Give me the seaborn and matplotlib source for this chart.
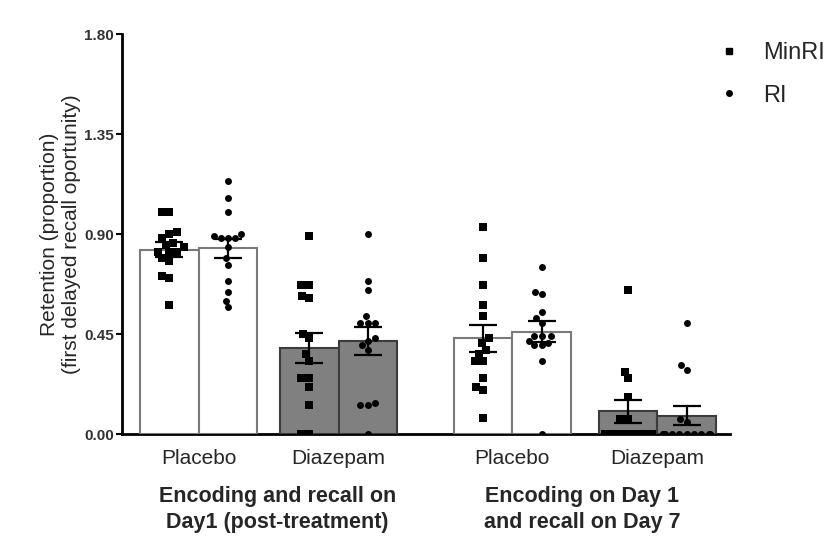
import numpy as np
import pandas as pd
import matplotlib
matplotlib.use("Agg")
import matplotlib.pyplot as plt
import matplotlib.transforms as mtrans
from matplotlib.lines import Line2D
from matplotlib.markers import MarkerStyle
import seaborn as sns

# ---------------- data ----------------
conditions = ["Placebo", "Diazepam", "Placebo", "Diazepam"]
bar_kind = ["placebo", "diazepam", "placebo", "diazepam"]
group_labels = ["Encoding and recall on\nDay1 (post-treatment)",
                "Encoding on Day 1\nand recall on Day 7"]
intervals = ["MinRI", "RI"]
yticks = [0.00, 0.45, 0.90, 1.35, 1.80]
ylabel = "Retention (proportion)\n(first delayed recall oportunity)"

mean_minri = [0.830, 0.387, 0.430, 0.102]
sem_minri = [0.032, 0.069, 0.060, 0.051]
mean_ri = [0.835, 0.417, 0.460, 0.083]
sem_ri = [0.044, 0.063, 0.047, 0.044]

d1_placebo_minri = [1.00, 1.00, 0.91, 0.90, 0.88, 0.86, 0.85, 0.84, 0.82, 0.82,
                    0.82, 0.79, 0.78, 0.71, 0.70, 0.58]
d1_placebo_ri = [1.14, 1.06, 1.00, 0.90, 0.89, 0.88, 0.88, 0.88, 0.84, 0.79,
                 0.76, 0.69, 0.64, 0.60, 0.57]
d1_diazepam_minri = [0.89, 0.67, 0.67, 0.62, 0.61, 0.45, 0.43, 0.36, 0.33, 0.25,
                     0.25, 0.21, 0.13, 0.00, 0.00]
d1_diazepam_ri = [0.90, 0.69, 0.65, 0.53, 0.50, 0.50, 0.50, 0.43, 0.42, 0.40,
                  0.38, 0.13, 0.13, 0.14, 0.00]
d7_placebo_minri = [0.93, 0.79, 0.67, 0.58, 0.53, 0.43, 0.41, 0.38, 0.36, 0.33,
                    0.33, 0.25, 0.21, 0.20, 0.07]
d7_placebo_ri = [0.75, 0.64, 0.63, 0.55, 0.52, 0.50, 0.44, 0.44, 0.44, 0.42,
                 0.41, 0.40, 0.40, 0.33, 0.00]
d7_diazepam_minri = [0.65, 0.28, 0.25, 0.165, 0.066, 0.066, 0.0, 0.0, 0.0, 0.0,
                     0.0, 0.0, 0.0, 0.0, 0.0]
d7_diazepam_ri = [0.50, 0.31, 0.29, 0.066, 0.055, 0.0, 0.0, 0.0, 0.0, 0.0,
                  0.0, 0.0, 0.0, 0.0, 0.0]

points = {
    (0, "MinRI"): d1_placebo_minri, (0, "RI"): d1_placebo_ri,
    (1, "MinRI"): d1_diazepam_minri, (1, "RI"): d1_diazepam_ri,
    (2, "MinRI"): d7_placebo_minri, (2, "RI"): d7_placebo_ri,
    (3, "MinRI"): d7_diazepam_minri, (3, "RI"): d7_diazepam_ri,
}

# ---------------- layout ----------------
pair_centers = [1.31, 3.70, 6.67, 9.15]
offsets = {"MinRI": -0.5, "RI": 0.5}
bar_w = 1.0
xlim = (0, 10.39)

W, H = 830, 542
sns.set_style("ticks")
plt.rcParams["font.family"] = ["Liberation Sans", "DejaVu Sans"]

fig = plt.figure(figsize=(W / 100, H / 100), dpi=100)
ax = fig.add_axes([122 / W, 108 / H, 608 / W, 400 / H])
ax.set_xlim(*xlim)
ax.set_ylim(0, 1.8)

fill = {"placebo": "white", "diazepam": "#808080"}
edge = {"placebo": "#7a7a7a", "diazepam": "#3c3c3c"}

means = {"MinRI": mean_minri, "RI": mean_ri}
sems = {"MinRI": sem_minri, "RI": sem_ri}
for iv in intervals:
    pos = [c + offsets[iv] for c in pair_centers]
    ax.bar(pos, means[iv], width=bar_w,
           color=[fill[k] for k in bar_kind],
           edgecolor=[edge[k] for k in bar_kind], linewidth=1.5, zorder=2)
    ax.errorbar(pos, means[iv], yerr=sems[iv], fmt="none", ecolor="black",
                elinewidth=1.6, capsize=10.4, capthick=1.6, zorder=3)

rows = []
for (ci, iv), vals in points.items():
    for v in vals:
        rows.append({"pos": round(pair_centers[ci] + offsets[iv], 4),
                     "interval": iv, "value": v})
df = pd.DataFrame(rows)

n_before = len(ax.collections)
sns.swarmplot(data=df, x="pos", y="value", native_scale=True, orient="x",
              color="black", size=5.0, linewidth=0, warn_thresh=1, ax=ax,
              zorder=4)

sq = MarkerStyle("s")
sq_path = sq.get_path().transformed(sq.get_transform())
minri_pos = [c + offsets["MinRI"] for c in pair_centers]
for coll in ax.collections[n_before:]:
    offs = coll.get_offsets()
    if len(offs) == 0:
        continue
    xc = float(np.mean(np.asarray(offs)[:, 0]))
    if min(abs(xc - p) for p in minri_pos) < 0.25:
        coll.set_paths([sq_path])
        coll.set_sizes([5.4 ** 2])

ax.set_xlim(*xlim)
ax.set_ylim(0, 1.8)

# axes styling
for s in ["top", "right"]:
    ax.spines[s].set_visible(False)
ax.spines["left"].set_linewidth(2)
ax.spines["bottom"].set_linewidth(2)
ax.spines["left"].set_color("black")
ax.spines["bottom"].set_color("black")
ax.spines["bottom"].set_zorder(1)

ax.set_yticks(yticks)
ax.set_yticklabels([f"{t:.2f}" for t in yticks], fontsize=11,
                   fontweight="bold", color="#333333")
ax.tick_params(axis="y", direction="out", length=4, width=1.5, pad=2,
               color="black")
ax.set_xticks(pair_centers)
ax.set_xticklabels(conditions, fontsize=15)
ax.tick_params(axis="x", length=0, pad=11)
ax.set_xlabel("")
ax.set_ylabel(ylabel, fontsize=15, linespacing=1.15)
ax.yaxis.set_label_coords(-0.068, 0.5)

trans = mtrans.blended_transform_factory(ax.transData, ax.transAxes)
g_centers = [(pair_centers[0] + pair_centers[1]) / 2 + 0.15,
             (pair_centers[2] + pair_centers[3]) / 2 - 0.05]
for gx, gl in zip(g_centers, group_labels):
    ax.text(gx, -0.13, gl, transform=trans, ha="center", va="top",
            fontsize=15.5, fontweight="bold", linespacing=1.3,
            multialignment="center")

handles = [Line2D([], [], marker="s", color="black", linestyle="none",
                  markersize=4.5),
           Line2D([], [], marker="o", color="black", linestyle="none",
                  markersize=4.0)]
fig.legend(handles, intervals, loc="upper left",
           bbox_to_anchor=(717 / W, 1 - 42 / H), bbox_transform=fig.transFigure,
           frameon=False, fontsize=17, handlelength=1.0, handletextpad=0.95,
           labelspacing=0.87, borderpad=0, borderaxespad=0)

fig.savefig("out.png", dpi=100, facecolor="white")
